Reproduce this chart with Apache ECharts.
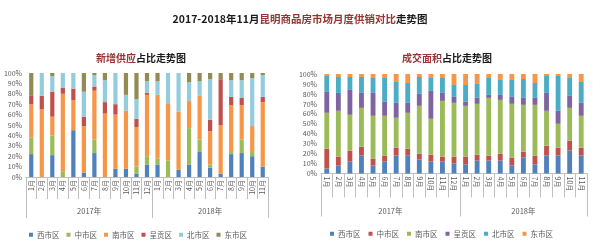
<!DOCTYPE html>
<html>
<head>
<meta charset="utf-8">
<script src="https://cdn.jsdelivr.net/npm/echarts@6/dist/echarts.min.js"></script>
<style>
html,body{margin:0;padding:0;background:#fff;}
#c{width:600px;height:243px;}
</style>
</head>
<body>
<div id="c"></div>
<script>
// ---- data ----
const months = ['1月','2月','3月','4月','5月','6月','7月','8月','9月','10月','11月','12月',
                '1月','2月','3月','4月','5月','6月','7月','8月','9月','10月','11月'];
const years = ['2017年','2018年'];
const yearMonthCounts = [12, 11];
const districts = ['西市区','中市区','南市区','呈贡区','北市区','东市区'];
const yTicks = [0,10,20,30,40,50,60,70,80,90,100];

// 新增供应占比 (%)
const supplyWest      = [22,0,21,0,45,4,23,0,8,8,3,12,12,0,7,12,24,9,3,22,23,20,10];
const supplyMid       = [16,0,19,5,0,0,13,0,0,0,7,8,6,16,0,35,12,3,0,2,13,4,0];
const supplySouth     = [32,65,18,75,29,45,47,61,52,56,38,59,61,55,56,26,42,32,47,45,33,25,62];
const supplyChenggong = [8,13,24,6,11,9,4,11,10,0,8,2,0,0,0,0,0,11,44,8,7,0,5];
const supplyNorth     = [0,22,15,14,15,24,11,21,30,15,19,11,13,29,37,18,14,39,0,16,17,46,21];
const supplyEast      = [22,0,3,0,0,18,2,7,0,21,25,8,8,0,0,9,8,6,6,7,7,5,2];

// 成交面积占比 (%)
const dealWest      = [5,8,12,18,8,12,18,18,14,12,12,10,9,13,13,13,8,16,9,18,18,23,18];
const dealMid       = [20,9,11,9,7,6,8,7,6,7,5,7,8,6,5,7,8,6,9,10,8,10,8];
const dealSouth     = [36,46,36,39,43,40,30,36,48,36,56,54,51,51,58,54,54,47,51,35,24,33,32];
const dealChenggong = [21,18,25,15,23,14,15,10,12,28,8,6,4,6,3,5,7,7,7,18,13,12,13];
const dealNorth     = [16,16,13,16,15,24,21,20,17,13,15,12,17,14,17,15,17,19,15,17,35,18,21];
const dealEast      = [2,3,3,3,4,4,8,9,3,4,4,11,11,10,4,6,6,5,9,2,2,4,8];

// ---- styling ----
const leftColors  = ['#4F81BD','#9BBB59','#F79646','#C0504D','#93CDDD','#948A54'];
const rightColors = ['#4F81BD','#C0504D','#9BBB59','#8064A2','#4BACC6','#F79646'];
const FONT = '"Noto Sans CJK SC", "Noto Sans", sans-serif';
const RED = '#943634';
const AXC = '#bfbfbf';
const TXT = '#595959';

const supply = [supplyWest, supplyMid, supplySouth, supplyChenggong, supplyNorth, supplyEast];
const deal = [dealWest, dealMid, dealSouth, dealChenggong, dealNorth, dealEast];

const yearBounds = [0];
yearMonthCounts.forEach(n => yearBounds.push(yearBounds[yearBounds.length-1] + n));
const yearCenters = years.map((y,i) => (yearBounds[i] + yearBounds[i+1]) / 2);

function monthAxis(gi, rot, tickLen, margin){
  return {
    type:'category', gridIndex: gi, data: months,
    axisLine:{lineStyle:{color:AXC}},
    axisTick:{show:true, interval:0, length:tickLen, lineStyle:{color:AXC}},
    axisLabel:{interval:0, rotate:rot, fontSize:7, color:TXT, margin:margin, fontFamily:FONT},
    splitLine:{show:false}
  };
}
function yearAxis(gi, tickLen, margin){
  return {
    type:'value', gridIndex: gi, min: yearBounds[0], max: yearBounds[yearBounds.length-1],
    position:'bottom',
    axisLine:{show:false},
    axisTick:{show:true, length:tickLen, customValues: yearBounds, lineStyle:{color:AXC}},
    axisLabel:{show:true, customValues: yearCenters, fontSize:7.5, color:TXT, margin:margin, fontFamily:FONT,
      formatter: v => { for (let i=0;i<years.length;i++){ if (v < yearBounds[i+1]) return years[i]; } return ''; } },
    splitLine:{show:false}
  };
}
function valAxis(gi){
  return {
    type:'value', gridIndex: gi, min: yTicks[0], max: yTicks[yTicks.length-1], interval: 10,
    axisLine:{show:false}, axisTick:{show:false}, splitLine:{show:false},
    axisLabel:{formatter:'{value}%', fontSize:7, color:TXT, margin:4, fontFamily:FONT}
  };
}

const series = [];
districts.forEach((d,i) => {
  series.push({type:'bar', name:d, stack:'L', xAxisIndex:0, yAxisIndex:0, data:supply[i],
    barWidth:'40%', itemStyle:{color:leftColors[i]}});
});
districts.forEach((d,i) => {
  series.push({type:'bar', name:d, stack:'R', xAxisIndex:2, yAxisIndex:1, data:deal[i],
    barWidth:'42%', itemStyle:{color:rightColors[i]}});
});

const chart = echarts.init(document.getElementById('c'), null, {renderer:'canvas'});
chart.setOption({
  backgroundColor:'#ffffff',
  animation:false,
  textStyle:{fontFamily:FONT},
  title:[
    {text:'{a|2017-2018年11月}{b|昆明商品房市场月度供销对比}{a|走势图}', left:'center', top:9,
     textStyle:{rich:{
       a:{fontSize:10.5, fontWeight:'bold', color:'#1a1a1a', fontFamily:FONT},
       b:{fontSize:10.5, fontWeight:'bold', color:RED, fontFamily:FONT}}}},
    {text:'{b|新增供应}{a|占比走势图}', left:136, textAlign:'center', top:48,
     textStyle:{rich:{
       a:{fontSize:10, fontWeight:'bold', color:'#1a1a1a', fontFamily:FONT},
       b:{fontSize:10, fontWeight:'bold', color:RED, fontFamily:FONT}}}},
    {text:'{b|成交面积}{a|占比走势图}', left:442, textAlign:'center', top:48,
     textStyle:{rich:{
       a:{fontSize:10, fontWeight:'bold', color:'#1a1a1a', fontFamily:FONT},
       b:{fontSize:10, fontWeight:'bold', color:RED, fontFamily:FONT}}}}
  ],
  legend:[
    {left:24, top:226, icon:'rect', itemWidth:4, itemHeight:4, itemGap:7,
     textStyle:{fontSize:7.5, color:TXT, fontFamily:FONT, padding:[0,0,0,-1]},
     data: districts.map((d,i)=>({name:d, itemStyle:{color:leftColors[i]}}))},
    {left:325, top:225, icon:'rect', itemWidth:4, itemHeight:4, itemGap:8,
     textStyle:{fontSize:7.5, color:TXT, fontFamily:FONT, padding:[0,0,0,-1]},
     data: districts.map((d,i)=>({name:d, itemStyle:{color:rightColors[i]}}))}
  ],
  grid:[
    {left:26, right:332, top:73, bottom:66, containLabel:false},
    {left:321, right:13, top:74, bottom:69.5, containLabel:false}
  ],
  xAxis:[
    monthAxis(0, 90, 22, 3),
    yearAxis(0, 41, 30),
    monthAxis(1, -90, 24, 3),
    yearAxis(1, 43, 34)
  ],
  yAxis:[valAxis(0), valAxis(1)],
  series: series
});
</script>
</body>
</html>
